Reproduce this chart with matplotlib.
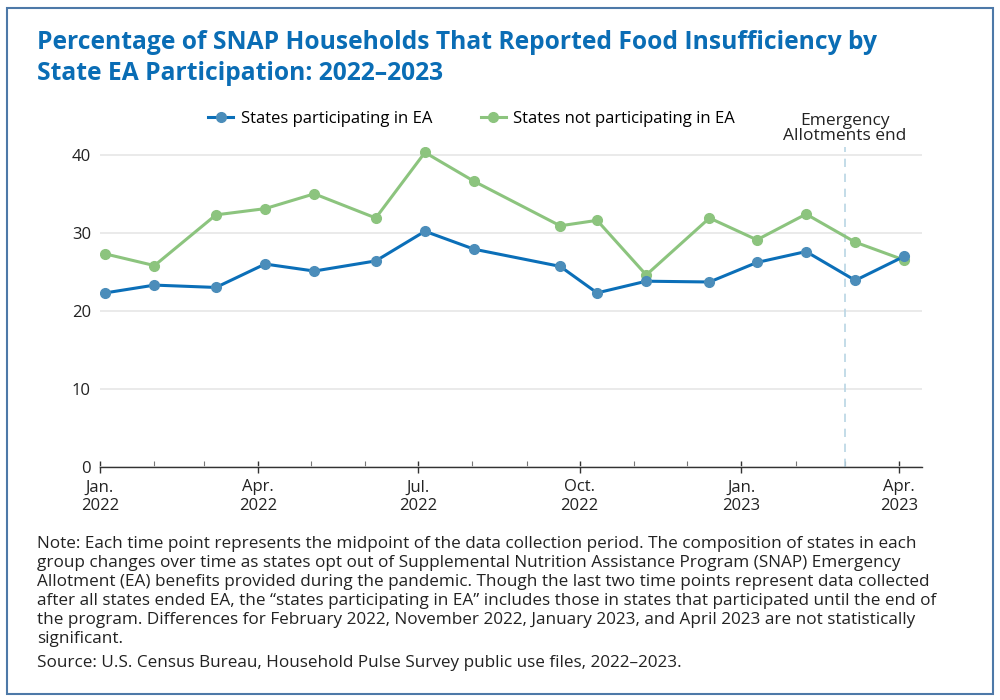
import matplotlib.pyplot as plt
import matplotlib.dates as mdates
import matplotlib.patches as mpatches
import numpy as np
import datetime as dt

plt.rcParams['font.family'] = ['Open Sans', 'DejaVu Sans']

# midpoints of the Household Pulse Survey collection periods
dates = ["2022-01-04", "2022-02-01", "2022-03-08", "2022-04-05", "2022-05-03",
         "2022-06-07", "2022-07-05", "2022-08-02", "2022-09-20", "2022-10-11",
         "2022-11-08", "2022-12-14", "2023-01-10", "2023-02-07", "2023-03-07",
         "2023-04-04"]
participating = [22.3, 23.3, 23.0, 26.0, 25.1, 26.4, 30.2, 27.9, 25.7, 22.3,
                 23.8, 23.7, 26.2, 27.6, 23.9, 27.0]
not_participating = [27.3, 25.8, 32.3, 33.1, 35.0, 31.9, 40.3, 36.6, 30.9, 31.6,
                     24.6, 31.9, 29.1, 32.4, 28.8, 26.5]
ea_end = "2023-03-01"
tick_labels = ["Jan.\n2022", "Apr.\n2022", "Jul.\n2022", "Oct.\n2022", "Jan.\n2023", "Apr.\n2023"]
tick_dates = ["2022-01-01", "2022-04-01", "2022-07-01", "2022-10-01", "2023-01-01", "2023-04-01"]

title = ("Percentage of SNAP Households That Reported Food Insufficiency by\n"
         "State EA Participation: 2022\u20132023")
note = ("Note: Each time point represents the midpoint of the data collection period. The composition of states in each\n"
        "group changes over time as states opt out of Supplemental Nutrition Assistance Program (SNAP) Emergency\n"
        "Allotment (EA) benefits provided during the pandemic. Though the last two time points represent data collected\n"
        "after all states ended EA, the \u201cstates participating in EA\u201d includes those in states that participated until the end of\n"
        "the program. Differences for February 2022, November 2022, January 2023, and April 2023 are not statistically\n"
        "significant.")
source = "Source: U.S. Census Bureau, Household Pulse Survey public use files, 2022\u20132023."

blue = '#0b6fb8'
blue_m = '#4b8dba'
green = '#8cc47e'

x = [dt.datetime.strptime(d, "%Y-%m-%d") for d in dates]

fig = plt.figure(figsize=(10, 7), dpi=100)
fig.patches.append(mpatches.Rectangle((0.007, 0.009), 0.986, 0.98, transform=fig.transFigure,
                                      fill=False, edgecolor='#4d79a8', linewidth=1.5))

ax = fig.add_axes([0.1, 0.333, 0.822, 0.457])
ax.plot(x, participating, color=blue, lw=2.2, marker='o', ms=7,
        mfc=blue_m, mec=blue_m, label='States participating in EA', zorder=4)
ax.plot(x, not_participating, color=green, lw=2.2, marker='o', ms=7,
        mfc=green, mec=green, label='States not participating in EA', zorder=3)

ea = dt.datetime.strptime(ea_end, "%Y-%m-%d")
ax.axvline(ea, color='#b9d5e4', lw=1.2, ls=(0, (5, 4)), zorder=1)
ax.text(ea, 43.4, "Emergency\nAllotments end", ha='center', va='center',
        fontsize=12.5, color='#222222', linespacing=0.95)

ax.set_xlim(dt.datetime(2022, 1, 1), dt.datetime(2023, 4, 14))
ax.set_ylim(0, 41)
ax.set_yticks([0, 10, 20, 30, 40])
ax.yaxis.grid(True, color='#e6e6e6', lw=1.2)
ax.set_axisbelow(True)
for s in ['left', 'right', 'top']:
    ax.spines[s].set_visible(False)
ax.spines['bottom'].set_color('#333333')
ax.spines['bottom'].set_linewidth(1.0)

ax.set_xticks([dt.datetime.strptime(d, "%Y-%m-%d") for d in tick_dates])
ax.set_xticklabels(tick_labels, fontsize=12, color='#222222', linespacing=1.2)
ax.xaxis.set_minor_locator(mdates.MonthLocator())
ax.tick_params(axis='x', which='major', direction='inout', length=9, width=1, color='#333333', pad=4.5)
ax.tick_params(axis='x', which='minor', direction='in', length=4, width=0.8, color='#777777')
ax.tick_params(axis='y', length=0, labelsize=12, labelcolor='#222222', pad=6.5)

leg = ax.legend(loc='center', bbox_to_anchor=(0.452, 1.088), ncol=2, frameon=False,
                fontsize=12, handlelength=1.5, columnspacing=2.9, handletextpad=0.45)

fig.text(0.037, 0.957, title, ha='left', va='top', fontsize=17.7, fontweight='bold',
         color='#0a6db5', linespacing=1.3)
fig.text(0.037, 0.234, note, ha='left', va='top', fontsize=12.3, color='#222222', linespacing=1.24)
fig.text(0.037, 0.053, source, ha='left', va='center', fontsize=12.3, color='#222222')

fig.savefig('out.png', dpi=100)
